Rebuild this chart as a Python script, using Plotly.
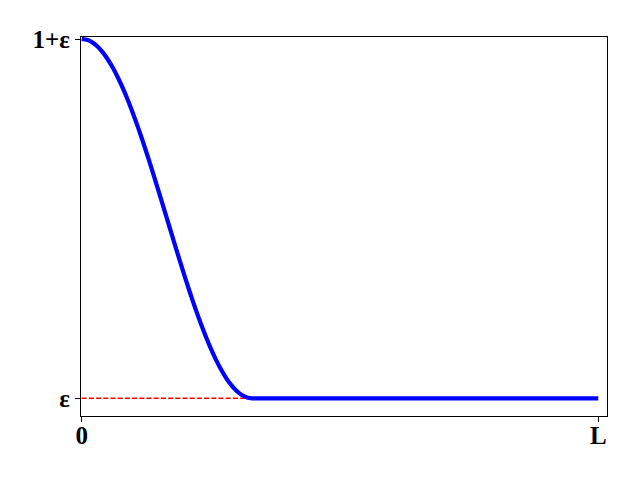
import plotly.graph_objects as go

# Profile (x in units of L)
x_vals = [0.00, 0.01, 0.02, 0.03, 0.04, 0.05, 0.06, 0.07, 0.08, 0.09, 0.10,
          0.11, 0.12, 0.13, 0.14, 0.15, 0.16, 0.17, 0.18, 0.19, 0.20,
          0.21, 0.22, 0.23, 0.24, 0.25, 0.26, 0.27, 0.28, 0.29, 0.30,
          0.31, 0.32, 0.33, 0.34, 0.36, 0.40, 0.48, 0.60, 0.75, 0.90, 1.00]
eps = 0.05
y_vals = [1.0500, 1.0477, 1.0410, 1.0298, 1.0142, 0.9944, 0.9706, 0.9430,
          0.9119, 0.8774, 0.8400, 0.8000, 0.7577, 0.7135, 0.6678, 0.6209,
          0.5738, 0.5262, 0.4791, 0.4322, 0.3865, 0.3423, 0.3000, 0.2600,
          0.2226, 0.1881, 0.1570, 0.1294, 0.1056, 0.0858, 0.0703, 0.0590,
          0.0523, 0.0500, 0.0500, 0.0500, 0.0500, 0.0500, 0.0500, 0.0500,
          0.0500, 0.0500]

ref_x = [0.0, 0.33]
ref_y = [eps, eps]

x_tickvals = [0.0, 1.0]
x_ticktext = ["0", "L"]
y_tickvals = [eps, 1 + eps]
y_ticktext = ["ε", "1+ε"]

fig = go.Figure()
fig.add_trace(go.Scatter(x=ref_x, y=ref_y, mode="lines",
                         line=dict(color="red", width=1.4, dash="5px,2.2px"),
                         showlegend=False, hoverinfo="skip"))
fig.add_trace(go.Scatter(x=x_vals, y=y_vals, mode="lines",
                         line=dict(color="blue", width=4.2, shape="spline", smoothing=0.6),
                         showlegend=False))

tickfont = dict(family="Liberation Serif", size=25, color="black", weight="bold")
axis_common = dict(showline=True, linecolor="black", linewidth=1, mirror=True,
                   ticks="outside", ticklen=5, tickwidth=1, tickcolor="black",
                   showgrid=False, zeroline=False, tickfont=tickfont,
                   tickmode="array", fixedrange=True, automargin=False)

fig.update_xaxes(range=[-0.0014, 1.0169], tickvals=x_tickvals, ticktext=x_ticktext,
                 ticklabelstandoff=-8, **axis_common)
fig.update_yaxes(range=[eps - 0.0493, 1 + eps + 0.0056], tickvals=y_tickvals,
                 ticktext=y_ticktext, **axis_common)

fig.update_layout(width=640, height=480, paper_bgcolor="white", plot_bgcolor="white",
                  margin=dict(l=81, r=33, t=37, b=64, pad=0))

fig.write_html("out.html", config={"displayModeBar": False},
               post_script="document.body.style.margin='0';document.body.style.padding='0';")
